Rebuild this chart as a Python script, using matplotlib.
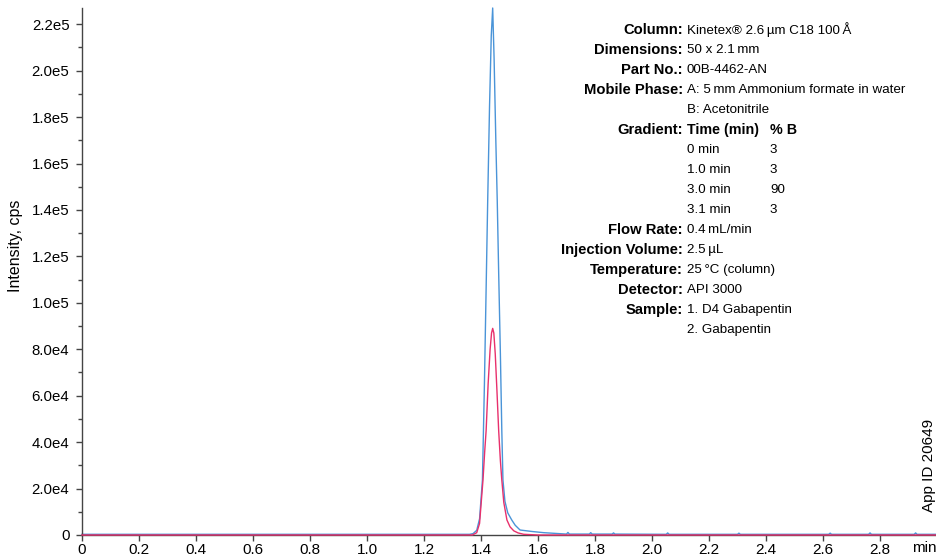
import matplotlib
matplotlib.use('Agg')
import matplotlib.pyplot as plt
from matplotlib.ticker import MultipleLocator, FuncFormatter

# chromatogram traces (time in min, intensity in cps)
blue_time = [0, 1.36, 1.372, 1.385, 1.395, 1.405, 1.412, 1.419, 1.4235, 1.43, 1.436, 1.441,
	1.446, 1.452, 1.457, 1.462, 1.468, 1.473, 1.477, 1.484, 1.494, 1.508, 1.52, 1.537,
	1.56, 1.58, 1.62, 1.66, 1.70, 1.705, 1.71, 1.78, 1.785, 1.79, 1.86, 1.865, 1.87,
	2.05, 2.055, 2.06, 2.3, 2.305, 2.31, 2.62, 2.625, 2.63, 2.76, 2.765, 2.77, 2.92,
	2.925, 2.93, 3.0]
blue_int = [300, 300, 600, 2000, 7000, 23700, 65000, 113000, 144000, 185000, 215000, 227000,
	205000, 170000, 144000, 113000, 78000, 45000, 23700, 14500, 9500, 6450, 4200, 2150,
	1800, 1500, 1000, 700, 400, 1100, 400, 400, 1000, 400, 400, 900, 400,
	300, 900, 300, 300, 800, 300, 300, 800, 300, 300, 900, 300, 300,
	900, 300, 300]

red_time = [0, 1.37, 1.385, 1.395, 1.407, 1.413, 1.418, 1.425, 1.432, 1.437, 1.441, 1.445,
	1.45, 1.456, 1.462, 1.468, 1.473, 1.48, 1.491, 1.502, 1.515, 1.53, 1.55, 1.6, 3.0]
red_int = [0, 0, 1000, 5000, 23700, 36000, 45000, 65000, 80000, 87000, 89000, 87000,
	78000, 62000, 45000, 32000, 23700, 14000, 6450, 3500, 1800, 900, 300, 0, 0]

# method info block
info_labels = ['Column:', 'Dimensions:', 'Part No.:', 'Mobile Phase:', '', 'Gradient:', '', '', '', '',
	'Flow Rate:', 'Injection Volume:', 'Temperature:', 'Detector:', 'Sample:', '']
info_values = ['Kinetex\u00ae 2.6\u2009\u00b5m C18 100\u2009\u00c5', '50 x 2.1\u2009mm', '00B-4462-AN',
	'A: 5\u2009mm Ammonium formate in water', 'B: Acetonitrile', 'Time (min)',
	'0 min', '1.0 min', '3.0 min', '3.1 min', '0.4\u2009mL/min', '2.5\u2009\u00b5L',
	'25\u2009\u00b0C (column)', 'API 3000', '1. D4 Gabapentin', '2. Gabapentin']
grad_b = ['% B', '3', '3', '90', '3']

blue = '#4a94d8'
red = '#e8306c'
plt.rcParams['font.family'] = ['Liberation Sans', 'DejaVu Sans']

W, H = 937, 558
fig = plt.figure(figsize = (W/100, H/100), dpi = 100)
ax = fig.add_axes([82/W, 23/H, (W - 82)/W, 527/H])

ax.plot(red_time, red_int, color = red, lw = 1.0, clip_on = False, zorder = 3)
ax.plot(blue_time, blue_int, color = blue, lw = 1.0, clip_on = False, zorder = 2)

ax.set_xlim(0, 3.0)
ax.set_ylim(0, 2.27e5)
for s in ['top', 'right']:
	ax.spines[s].set_visible(False)
for s in ['left', 'bottom']:
	ax.spines[s].set_color('#444444')
	ax.spines[s].set_linewidth(1.0)

ax.xaxis.set_major_locator(MultipleLocator(0.2))
ax.yaxis.set_major_locator(MultipleLocator(2e4))
ax.yaxis.set_minor_locator(MultipleLocator(1e4))

def xfmt(v, pos):
	if abs(v) < 1e-9: return '0'
	if v > 2.9: return ''
	return '{:.1f}'.format(v)

def yfmt(v, pos):
	if abs(v) < 1e-9: return '0'
	e = len(str(int(round(v)))) - 1
	return '{:.1f}e{}'.format(v / 10**e, e)

ax.xaxis.set_major_formatter(FuncFormatter(xfmt))
ax.yaxis.set_major_formatter(FuncFormatter(yfmt))
ax.tick_params(axis = 'x', which = 'major', length = 4, width = 1, color = '#444444', pad = 1.5, labelsize = 11)
ax.tick_params(axis = 'y', which = 'major', length = 4, width = 1, color = '#444444', pad = 5, labelsize = 10.8)
ax.tick_params(axis = 'y', which = 'minor', length = 3, width = 1, color = '#444444')

fig.text(16/W, 1 - 246/H, 'Intensity, cps', rotation = 90, ha = 'center', va = 'center', fontsize = 11.5)
fig.text(937/W, 1 - 548/H, 'min', ha = 'right', va = 'center', fontsize = 11)
fig.text(929/W, 1 - 465/H, 'App ID 20649', rotation = 90, ha = 'center', va = 'center', fontsize = 11)

# info block
lab_x = 683/W
val_x = 687/W
b_x = 770/W
for i, (lab, val) in enumerate(zip(info_labels, info_values)):
	y = 1 - (30 + i*20)/H
	if lab:
		fig.text(lab_x, y, lab, ha = 'right', va = 'center', fontsize = 10.6, weight = 'bold')
	fig.text(val_x, y, val, ha = 'left', va = 'center', fontsize = 10.3 if val == 'Time (min)' else 9.6,
		weight = 'bold' if val == 'Time (min)' else 'normal')
for j, b in enumerate(grad_b):
	y = 1 - (30 + (5 + j)*20)/H
	fig.text(b_x, y, b, ha = 'left', va = 'center', fontsize = 10.3 if j == 0 else 9.6,
		weight = 'bold' if j == 0 else 'normal')

fig.savefig('out.png', dpi = 100)
